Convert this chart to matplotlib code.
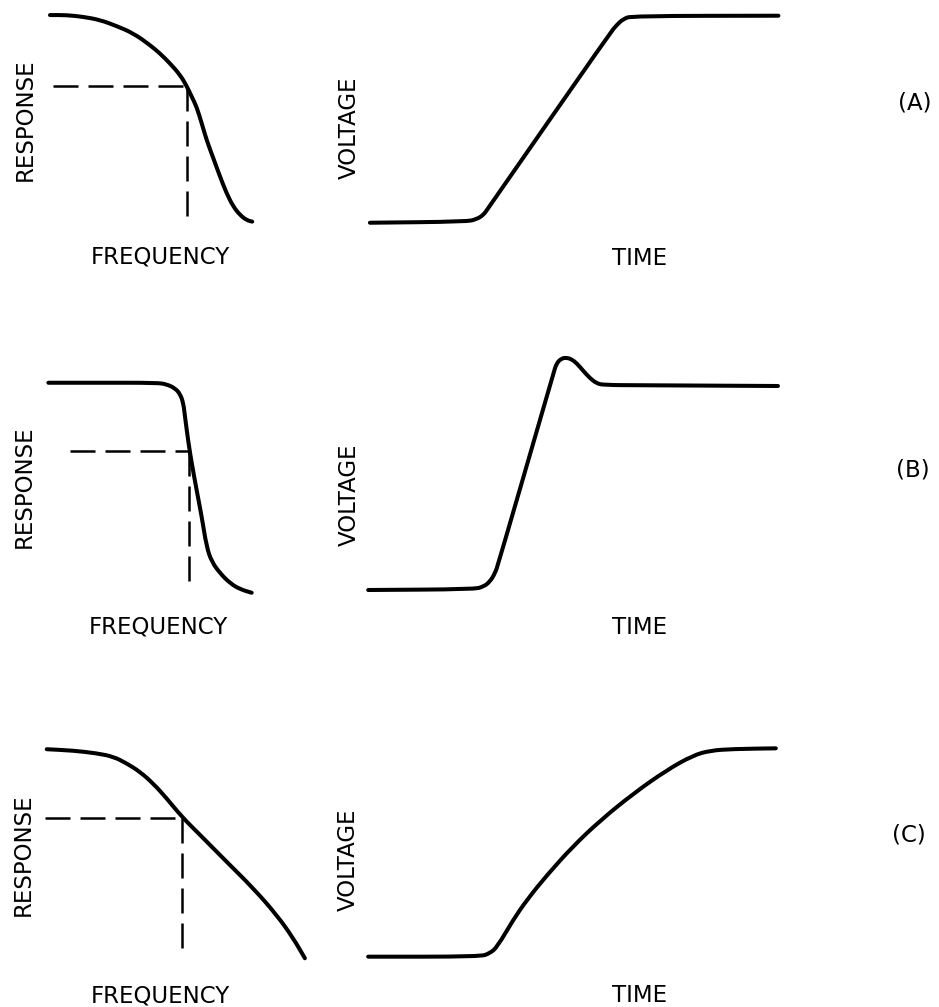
import matplotlib
matplotlib.use("Agg")
import numpy as np
import matplotlib.pyplot as plt
from matplotlib.path import Path
from matplotlib.patches import PathPatch

# ---- curve data (panel units: 0..100 on both axes) ----
# (A) gentle roll-off / linear ramp
resp_a_f = [3.7, 9.9, 16.0, 22.2, 28.4, 34.6, 40.7, 44.4, 48.1, 51.9, 54.3, 56.2, 58.0,
            59.9, 61.7, 64.2, 66.7, 69.1, 71.6, 74.1, 76.5, 78.6]
resp_a_r = [97.7, 97.7, 96.9, 95.5, 92.7, 89.4, 84.1, 80.3, 75.8, 70.5, 65.5, 60.6, 56.0,
            48.5, 40.9, 32.6, 24.2, 16.7, 10.6, 6.8, 4.5, 3.8]
step_a_t = [2.3, 24.8, 27.1, 28.7, 29.8, 58.1, 59.7, 61.2, 63.2, 97.3]
step_a_v = [3.3, 3.8, 4.9, 6.8, 9.9, 89.4, 93.2, 95.9, 97.3, 97.4]

# (B) sharp cutoff / fast rise with overshoot
resp_b_f = [3.1, 22.2, 43.2, 46.9, 50.0, 51.9, 53.1, 53.7, 55.0, 56.2, 58.0, 59.9,
            61.7, 63.6, 66.7, 70.4, 74.1, 78.4]
resp_b_r = [86.9, 86.9, 86.9, 86.3, 84.7, 82.4, 78.7, 73.3, 62.7, 54.7, 44.0, 33.3,
            21.3, 15.3, 10.7, 6.7, 4.3, 2.9]
step_b_t = [1.9, 26.4, 28.7, 30.2, 31.4, 32.2, 45.0, 45.7, 46.9, 48.1, 49.2, 50.4,
            51.9, 53.5, 55.0, 56.6, 65.1, 97.2]
step_b_v = [4.0, 4.3, 5.3, 7.3, 10.7, 14.7, 90.7, 94.7, 96.7, 96.9, 96.3, 94.7,
            91.7, 88.7, 86.7, 86.0, 85.9, 85.6]

# (C) slow roll-off / slow rise
resp_c_f = [2.5, 12.3, 21.0, 27.2, 32.1, 37.0, 41.9, 46.9, 52.5, 59.3, 69.1, 79.0, 87.7, 93.8, 98.1]
resp_c_r = [95.9, 95.3, 94.1, 92.6, 89.6, 85.9, 80.7, 74.1, 65.9, 57.8, 45.9, 34.1, 22.2, 11.9, 3.0]
step_c_t = [1.9, 27.9, 30.2, 31.9, 35.6, 38.8, 43.5, 49.5, 55.8, 63.5, 71.4, 77.4,
            81.4, 86.7, 96.7]
step_c_v = [3.7, 3.7, 5.2, 8.0, 20.0, 28.9, 40.0, 52.7, 64.1, 76.1, 86.7, 93.1,
            95.3, 96.0, 96.3]

# cutoff markers: (frequency, response) of the -3 dB point, dashed-guide start and foot
cut_f = [54.4, 55.2, 52.5]
cut_r = [65.5, 59.6, 65.3]
guide_start = [4.9, 11.1, 1.9]
guide_foot = [4.5, 7.3, 3.7]

row_tags = ["(A)", "(B)", "(C)"]
freq_label = "FREQUENCY"
resp_label = "RESPONSE"
time_label = "TIME"
volt_label = "VOLTAGE"

# ---- figure layout (pixels) ----
W, H = 939, 1007
fig = plt.figure(figsize=(W / 100, H / 100), dpi=100)
fig.patch.set_facecolor("white")

FAMILY = ["DejaVu Sans"]
FS = 16.5

left_x = (40, 310)
right_x = (360, 790)
rows_y = [(10, 230), (350, 600), (740, 965)]

rows = [
    (resp_a_f, resp_a_r, step_a_t, step_a_v),
    (resp_b_f, resp_b_r, step_b_t, step_b_v),
    (resp_c_f, resp_c_r, step_c_t, step_c_v),
]

resp_pos = [(25, 120), (24, 487), (23, 855)]
volt_pos = [(349, 128), (349, 495), (348, 860)]
freq_pos = [(160, 257), (158, 627), (160, 996)]
time_pos = [(640, 258), (640, 627), (640, 995)]
tag_pos = [(915, 103), (913, 470), (909, 835)]


def make_axes(xr, yr):
    x0, x1 = xr
    top, bot = yr
    ax = fig.add_axes([x0 / W, 1 - bot / H, (x1 - x0) / W, (bot - top) / H])
    ax.set_xlim(0, 100)
    ax.set_ylim(0, 100)
    ax.axis("off")
    return ax


def smooth_curve(ax, xs, ys, lw=2.9):
    """Quadratic B-spline path that uses the data points as control points."""
    p = np.column_stack([xs, ys]).astype(float)
    mids = (p[:-1] + p[1:]) / 2
    verts = [p[0], mids[0]]
    codes = [Path.MOVETO, Path.LINETO]
    for i in range(1, len(p) - 1):
        verts += [p[i], mids[i]]
        codes += [Path.CURVE3, Path.CURVE3]
    verts.append(p[-1])
    codes.append(Path.LINETO)
    patch = PathPatch(Path(np.array(verts), codes), fill=False, edgecolor="black", lw=lw,
                      capstyle="round", joinstyle="round", transform=ax.transData,
                      clip_on=False)
    ax.add_patch(patch)


def ftxt(px, py, s, **kw):
    fig.text(px / W, 1 - py / H, s, ha="center", va="center",
             fontsize=FS, family=FAMILY, color="black", **kw)


dash_kw = dict(color="black", lw=1.8, dashes=(10, 4), clip_on=False)

for i, (rf, rr, st, sv) in enumerate(rows):
    yr = rows_y[i]
    axl = make_axes(left_x, yr)
    smooth_curve(axl, rf, rr)
    cx, cy = cut_f[i], cut_r[i]
    axl.plot([guide_start[i], cx], [cy, cy], **dash_kw)
    axl.plot([cx, cx], [cy, guide_foot[i]], **dash_kw)

    axr = make_axes(right_x, yr)
    smooth_curve(axr, st, sv)

    ftxt(*resp_pos[i], resp_label, rotation=90)
    ftxt(*volt_pos[i], volt_label, rotation=90)
    ftxt(*freq_pos[i], freq_label)
    ftxt(*time_pos[i], time_label)
    ftxt(*tag_pos[i], row_tags[i])

fig.savefig("out.png", dpi=100, facecolor="white")
